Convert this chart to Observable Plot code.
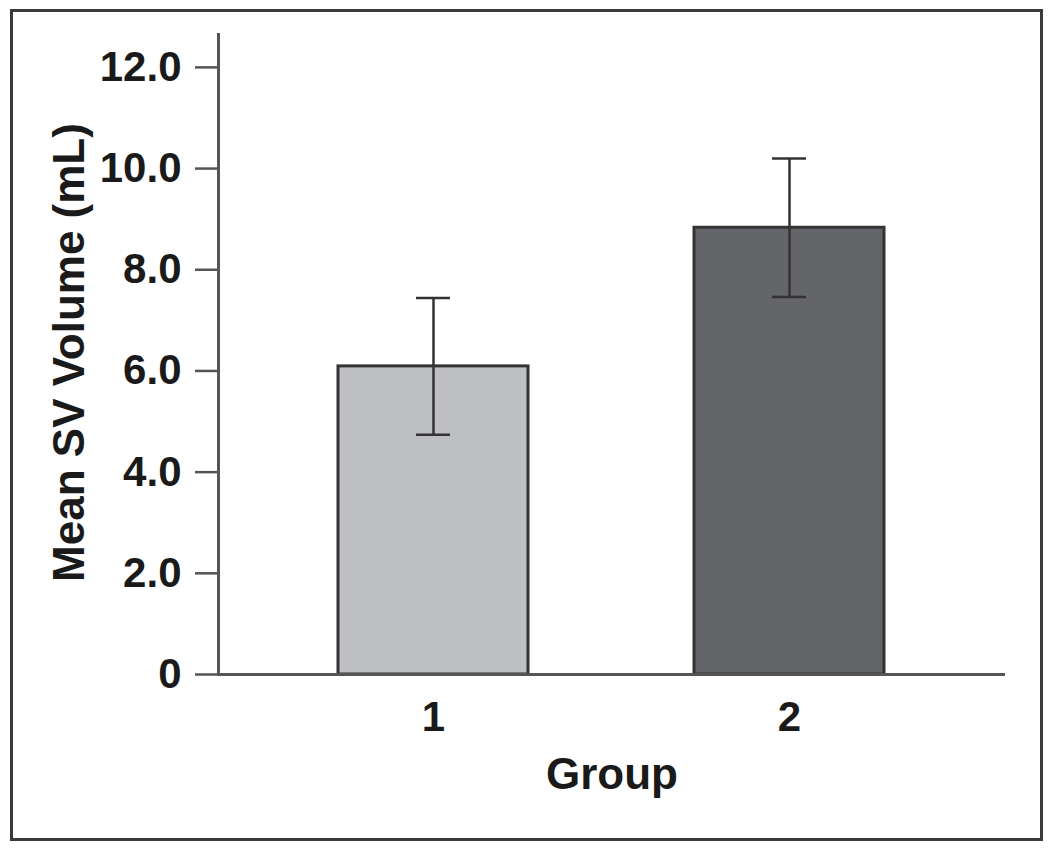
<!DOCTYPE html>
<html>
<head>
<meta charset="utf-8">
<script src="https://cdn.jsdelivr.net/npm/d3@7"></script>
<script src="https://cdn.jsdelivr.net/npm/@observablehq/plot@0.6"></script>
<style>
  html, body { margin: 0; padding: 0; background: #fff; }
  #wrap { position: relative; width: 1050px; height: 848px; overflow: hidden; }
  #wrap svg { position: absolute; left: 0; top: 0; }
  #border { position: absolute; left: 10px; top: 9px; width: 1027px; height: 826px; border: 3px solid #3a3a3a; pointer-events: none; }
</style>
</head>
<body>
<div id="wrap"><div id="border"></div></div>
<script>
const groups = ["1", "2"];
const means = [6.09, 8.83];
const errLow = [4.74, 7.46];
const errHigh = [7.44, 10.2];
const barColors = ["#bebfc3", "#646569"];
const yTicks = [0, 2, 4, 6, 8, 10, 12];

const data = groups.map((g, i) => ({group: g, mean: means[i], lo: errLow[i], hi: errHigh[i], color: barColors[i]}));

const font = "'Liberation Sans', Arial, Helvetica, sans-serif";
const ink = "#1a1a1a";
const axisGray = "#555";

const chart = Plot.plot({
  width: 1050,
  height: 848,
  marginLeft: 218,
  marginRight: 45,
  marginTop: 34,
  marginBottom: 174,
  style: {fontFamily: font, background: "transparent", overflow: "visible"},
  x: {type: "band", domain: groups, paddingInner: 0.465, paddingOuter: 0.335, axis: null},
  y: {domain: [0, 12.65], axis: null},
  marks: [
    Plot.barY(data, {x: "group", y: "mean", fill: "color", stroke: "#333", strokeWidth: 3}),
    Plot.ruleX(data, {x: "group", y1: "lo", y2: "hi", stroke: "#333", strokeWidth: 2.5}),
    Plot.tickY(data, {x: "group", y: "hi", stroke: "#333", strokeWidth: 2.5, insetLeft: 78, insetRight: 78}),
    Plot.tickY(data, {x: "group", y: "lo", stroke: "#333", strokeWidth: 2.5, insetLeft: 78, insetRight: 78}),
    Plot.ruleY([0], {stroke: axisGray, strokeWidth: 3}),
    Plot.frame({anchor: "left", stroke: axisGray, strokeWidth: 3}),
    Plot.axisY({
      ticks: yTicks,
      tickFormat: d => d === 0 ? "0" : d.toFixed(1),
      tickSize: 23,
      tickPadding: 14,
      stroke: axisGray,
      strokeWidth: 2.5,
      fill: ink,
      fontSize: 42,
      fontWeight: "bold",
      label: null
    }),
    Plot.axisX({
      tickSize: 0,
      tickPadding: 27,
      fill: ink,
      fontSize: 42,
      fontWeight: "bold",
      label: null
    }),
    Plot.text(["Group"], {frameAnchor: "bottom", dy: 100, textAnchor: "middle", lineAnchor: "middle", fontSize: 44, fontWeight: "bold", fill: ink}),
    Plot.text(["Mean SV Volume (mL)"], {frameAnchor: "left", dx: -149, dy: -2, rotate: -90, textAnchor: "middle", lineAnchor: "middle", fontSize: 44, fontWeight: "bold", fill: ink})
  ]
});
document.getElementById("wrap").prepend(chart);
</script>
</body>
</html>
